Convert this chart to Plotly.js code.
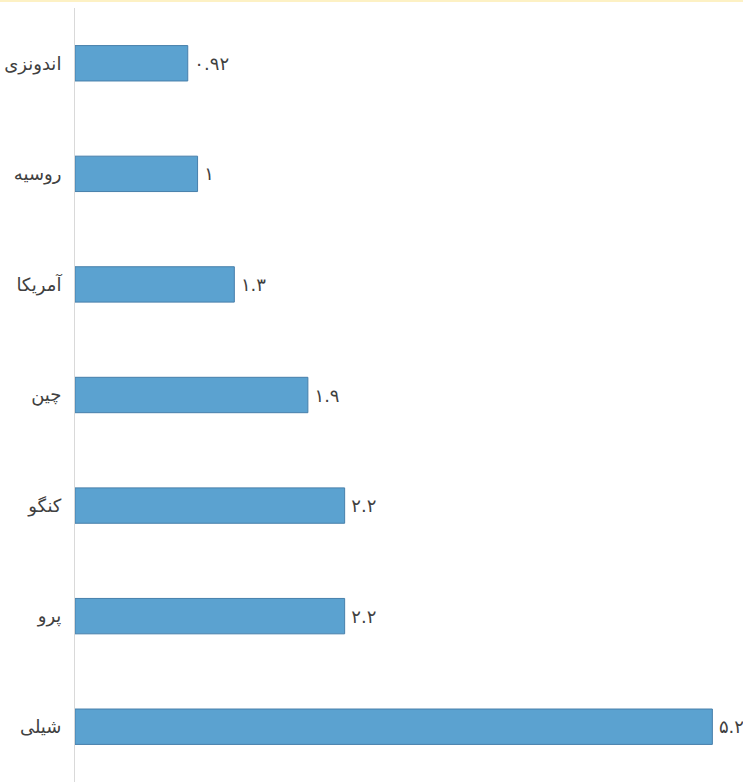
<!DOCTYPE html>
<html>
<head>
<meta charset="utf-8">
<script src="https://cdn.plot.ly/plotly-3.0.1.min.js"></script>
<style>html,body{margin:0;padding:0;background:#fff;}#chart{width:743px;height:782px;}</style>
</head>
<body>
<div id="chart"></div>
<script>
const categories = ["اندونزی", "روسیه", "آمریکا", "چین", "کنگو", "پرو", "شیلی"];
const values = [0.92, 1, 1.3, 1.9, 2.2, 2.2, 5.2];
const valueLabels = ["۰.۹۲", "۱", "۱.۳", "۱.۹", "۲.۲", "۲.۲", "۵.۲"];

const trace = {
  type: "bar",
  orientation: "h",
  y: categories,
  x: values,
  text: valueLabels.map(s => "\u2009" + s),
  textposition: "outside",
  cliponaxis: false,
  textfont: {family: "DejaVu Sans", size: 18, color: "#404040"},
  marker: {color: "#5ba2d0", line: {color: "#477fab", width: 1}},
  width: 0.32,
  hoverinfo: "none"
};

const layout = {
  width: 743, height: 782,
  margin: {l: 75, r: 0, t: 8, b: 0},
  paper_bgcolor: "#ffffff",
  plot_bgcolor: "#ffffff",
  showlegend: false,
  xaxis: {range: [0, 5.45], visible: false, showgrid: false, zeroline: false},
  yaxis: {
    type: "category",
    categoryorder: "array",
    categoryarray: categories,
    autorange: "reversed",
    showline: true, linecolor: "#d9d9d9", linewidth: 1,
    showgrid: false, zeroline: false, ticks: "",
    tickfont: {family: "DejaVu Sans", size: 18, color: "#404040"},
    ticklabelstandoff: 9
  },
  shapes: [{
    type: "line", xref: "paper", yref: "paper",
    x0: -0.2, x1: 1, y0: 1.009, y1: 1.009,
    line: {color: "#fdf1c4", width: 2}
  }]
};

Plotly.newPlot("chart", [trace], layout, {displayModeBar: false, staticPlot: true});
</script>
</body>
</html>
